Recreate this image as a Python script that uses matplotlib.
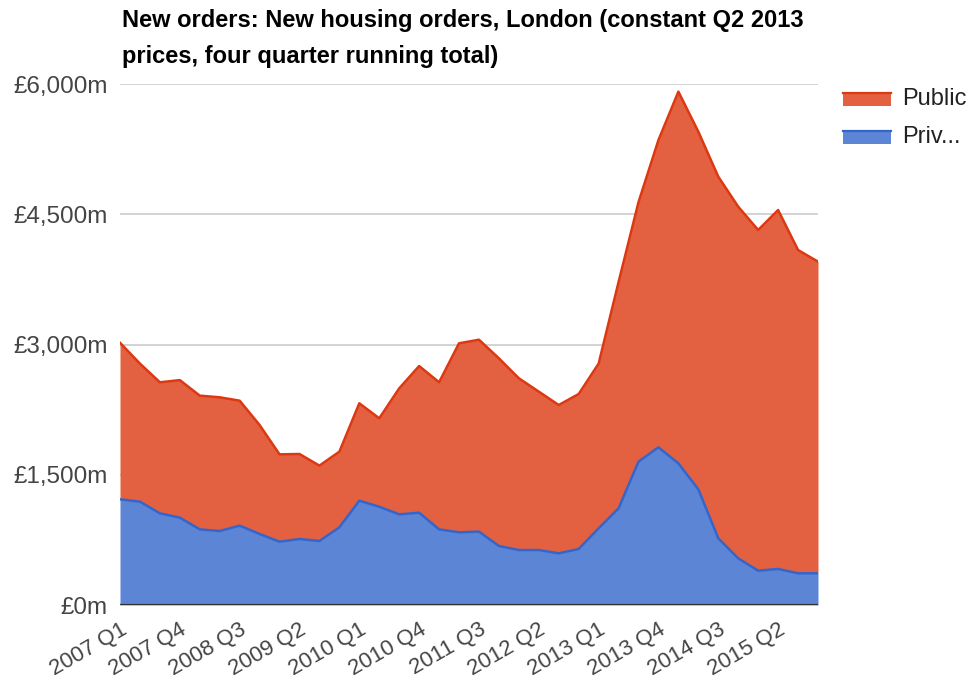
import matplotlib
matplotlib.use("Agg")
import matplotlib.pyplot as plt
from matplotlib.patches import Rectangle
import numpy as np

quarters = [
    "2007 Q1", "2007 Q2", "2007 Q3", "2007 Q4",
    "2008 Q1", "2008 Q2", "2008 Q3", "2008 Q4",
    "2009 Q1", "2009 Q2", "2009 Q3", "2009 Q4",
    "2010 Q1", "2010 Q2", "2010 Q3", "2010 Q4",
    "2011 Q1", "2011 Q2", "2011 Q3", "2011 Q4",
    "2012 Q1", "2012 Q2", "2012 Q3", "2012 Q4",
    "2013 Q1", "2013 Q2", "2013 Q3", "2013 Q4",
    "2014 Q1", "2014 Q2", "2014 Q3", "2014 Q4",
    "2015 Q1", "2015 Q2", "2015 Q3", "2015 Q4",
]
private = [1217, 1190, 1056, 1006, 871, 852, 914, 818, 729, 760, 737, 894,
           1201, 1132, 1044, 1063, 871, 837, 845, 680, 633, 633, 595, 645,
           883, 1113, 1651, 1816, 1631, 1332, 768, 537, 395, 415, 365, 365]
public = [1803, 1590, 1509, 1584, 1540, 1540, 1439, 1255, 1006, 979, 868, 872,
          1122, 1018, 1451, 1689, 1694, 2177, 2210, 2161, 1978, 1824, 1708, 1785,
          1897, 2607, 2989, 3539, 4281, 4119, 4165, 4050, 3924, 4134, 3723, 3589]
shown_ticks = ["2007 Q1", "2007 Q4", "2008 Q3", "2009 Q2", "2010 Q1", "2010 Q4",
               "2011 Q3", "2012 Q2", "2013 Q1", "2013 Q4", "2014 Q3", "2015 Q2"]
y_ticks = [0, 1500, 3000, 4500, 6000]
y_labels = ["£0m", "£1,500m", "£3,000m", "£4,500m", "£6,000m"]
series_names = ["Public", "Priv..."]
title = "New orders: New housing orders, London (constant Q2 2013\nprices, four quarter running total)"

plt.rcParams["font.family"] = ["Liberation Sans", "DejaVu Sans"]

RED_LINE, BLUE_LINE = "#dc3912", "#3366cc"
RED_FILL, BLUE_FILL = "#e36141", "#5c85d6"

W, H = 972, 689
fig = plt.figure(figsize=(W / 100, H / 100), dpi=100)
ax = fig.add_axes([120 / W, 1 - 605 / H, (818 - 120) / W, (605 - 84) / H])

x = np.arange(len(quarters))
priv = np.array(private, dtype=float)
total = priv + np.array(public, dtype=float)

for yv in y_ticks[1:]:
    ax.axhline(yv, color="#cccccc", lw=1.2, zorder=0)

ax.fill_between(x, 0, priv, color=BLUE_FILL, lw=0, zorder=1)
ax.fill_between(x, priv, total, color=RED_FILL, lw=0, zorder=1)
ax.plot(x, total, color=RED_LINE, lw=1.8, zorder=3, solid_joinstyle="round")
ax.plot(x, priv, color=BLUE_LINE, lw=1.8, zorder=3, solid_joinstyle="round")
ax.axhline(0, color="#333333", lw=1.6, zorder=4)

ax.set_xlim(0, len(quarters) - 1)
ax.set_ylim(0, 6000)
ax.set_yticks(y_ticks)
ax.set_yticklabels(y_labels)
ax.set_xticks([quarters.index(q) for q in shown_ticks])
ax.set_xticklabels(shown_ticks, rotation=30, ha="right", va="top",
                   rotation_mode="anchor")
ax.tick_params(axis="both", length=0, colors="#444444")
ax.tick_params(axis="y", pad=9, labelsize=17.5)
ax.tick_params(axis="x", pad=10, labelsize=16)
for s in ax.spines.values():
    s.set_visible(False)

fig.text(122 / W, 1 - 9 / H, title, ha="left", va="top", fontsize=17,
         fontweight="bold", color="#000000", linespacing=1.72)

# legend
for i, (name, fc, ec) in enumerate(zip(series_names, [RED_FILL, BLUE_FILL], [RED_LINE, BLUE_LINE])):
    ycen = 99 + i * 38
    fig.patches.append(Rectangle((843 / W, 1 - (ycen + 7) / H), 48 / W, 14 / H,
                                 transform=fig.transFigure, facecolor=fc, edgecolor="none"))
    fig.lines.append(plt.Line2D([843 / W, 891 / W], [1 - (ycen - 6) / H] * 2,
                                transform=fig.transFigure, color=ec, lw=1.6))
    fig.text(902 / W, 1 - ycen / H, name, ha="left", va="center", fontsize=17,
             color="#222222")

fig.savefig("out.png", dpi=100)
